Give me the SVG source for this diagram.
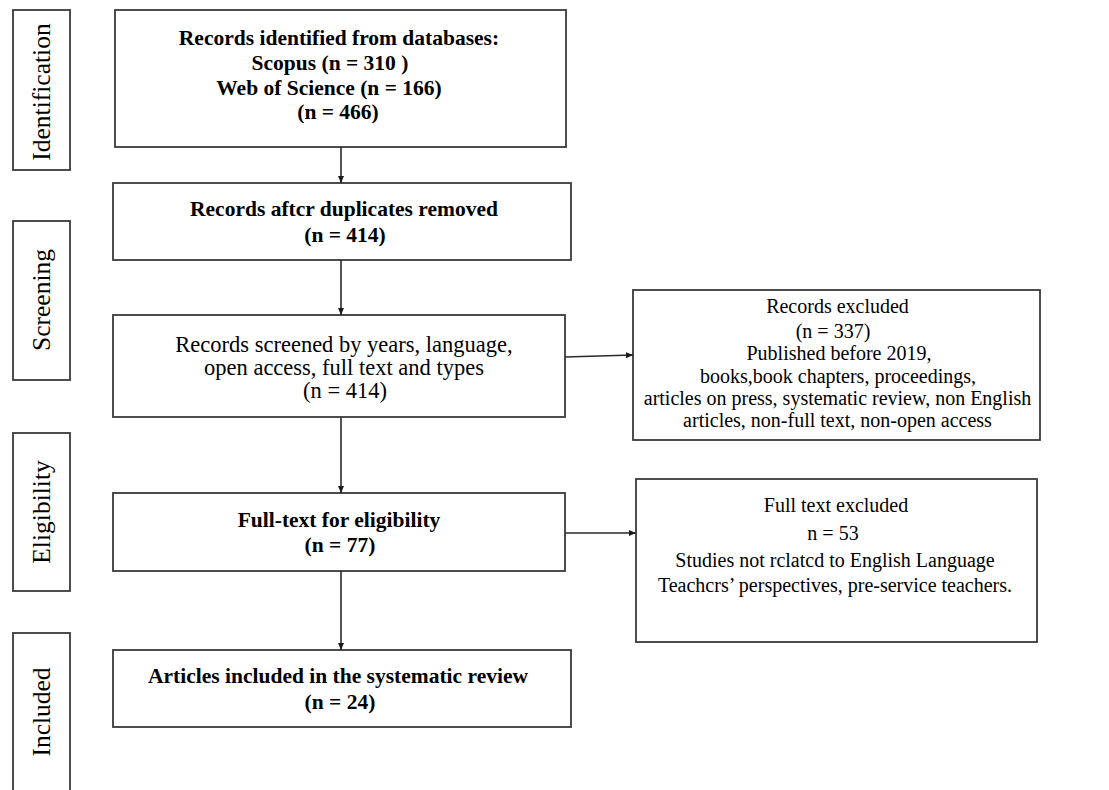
<svg xmlns="http://www.w3.org/2000/svg" width="1109" height="790" viewBox="0 0 1109 790">
<style>
.box{fill:#fff;stroke:#3a3a3a;stroke-width:1.8}
.side{font-family:"Liberation Serif","Times New Roman",serif;font-size:25.5px;fill:#000;text-anchor:middle}
.b{font-family:"Liberation Serif","Times New Roman",serif;font-size:21.5px;font-weight:bold;fill:#000;text-anchor:middle}
.r{font-family:"Liberation Serif","Times New Roman",serif;font-size:22.5px;fill:#000;text-anchor:middle}
.s{font-family:"Liberation Serif","Times New Roman",serif;font-size:20px;fill:#000;text-anchor:middle}
.conn{stroke:#2a2a2a;stroke-width:1.6;fill:none;marker-end:url(#ah)}
</style>
<defs>
<marker id="ah" markerWidth="8" markerHeight="8" refX="7" refY="3" orient="auto" markerUnits="userSpaceOnUse">
<path d="M0,0 L7,3 L0,6 z" fill="#1a1a1a"/>
</marker>
</defs>
<rect width="1109" height="790" fill="#fff"/>

<g id="side-identification">
<rect class="box" x="13" y="10" width="57" height="160"/>
<text class="side" transform="translate(50,92) rotate(-90)">Identification</text>
</g>
<g id="side-screening">
<rect class="box" x="13" y="221" width="57" height="159"/>
<text class="side" transform="translate(50,300) rotate(-90)">Screening</text>
</g>
<g id="side-eligibility">
<rect class="box" x="13" y="433" width="57" height="158"/>
<text class="side" transform="translate(50,512) rotate(-90)">Eligibility</text>
</g>
<g id="side-included">
<rect class="box" x="13" y="633" width="57" height="180"/>
<text class="side" transform="translate(50,712) rotate(-90)">Included</text>
</g>

<g id="identified">
<rect class="box" x="115" y="10" width="451" height="137"/>
<text class="b" x="339" y="45">Records identified from databases:</text>
<text class="b" x="330" y="70">Scopus (n = 310 )</text>
<text class="b" x="329" y="95">Web of Science (n = 166)</text>
<text class="b" x="338" y="119">(n = 466)</text>
</g>
<g id="duplicates">
<rect class="box" x="113" y="183" width="458" height="77"/>
<text class="b" x="344" y="216">Records aftcr duplicates removed</text>
<text class="b" x="345" y="242">(n = 414)</text>
</g>
<g id="screened">
<rect class="box" x="113" y="315" width="452" height="102"/>
<text class="r" x="344" y="352">Records screened by years, language,</text>
<text class="r" x="344" y="375">open access, full text and types</text>
<text class="r" x="345" y="398">(n = 414)</text>
</g>
<g id="eligibility">
<rect class="box" x="113" y="493" width="452" height="78"/>
<text class="b" x="339" y="527">Full-text for eligibility</text>
<text class="b" x="340" y="552">(n = 77)</text>
</g>
<g id="included">
<rect class="box" x="113" y="650" width="458" height="77"/>
<text class="b" x="338" y="683">Articles included in the systematic review</text>
<text class="b" x="340" y="709">(n = 24)</text>
</g>

<g id="records-excluded">
<rect class="box" x="633" y="290" width="407" height="150"/>
<text class="s" x="837.5" y="313">Records excluded</text>
<text class="s" x="833" y="338">(n = 337)</text>
<text class="s" x="839" y="360">Published before 2019,</text>
<text class="s" x="838" y="383">books,book chapters, proceedings,</text>
<text class="s" x="837.5" y="405">articles on press, systematic review, non English</text>
<text class="s" x="837.5" y="427">articles, non-full text, non-open access</text>
</g>
<g id="fulltext-excluded">
<rect class="box" x="636" y="479" width="401" height="163"/>
<text class="s" x="836" y="512">Full text excluded</text>
<text class="s" x="833" y="540">n = 53</text>
<text class="s" x="835" y="567">Studies not rclatcd to English Language</text>
<text class="s" x="835" y="592">Teachcrs’ perspectives, pre-service teachers.</text>
</g>

<g id="connectors">
<line class="conn" x1="341" y1="147" x2="341" y2="183"/>
<line class="conn" x1="341" y1="260" x2="341" y2="315"/>
<line class="conn" x1="341" y1="417" x2="341" y2="493"/>
<line class="conn" x1="341" y1="571" x2="341" y2="650"/>
<line class="conn" x1="565" y1="357" x2="633" y2="355"/>
<line class="conn" x1="565" y1="533" x2="636" y2="533"/>
</g>
</svg>
